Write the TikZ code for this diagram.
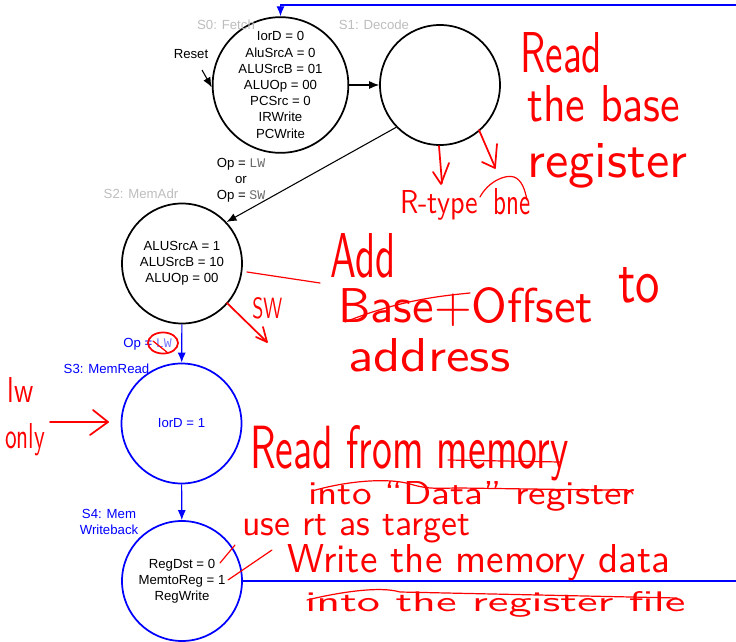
\documentclass[tikz,border=0pt]{standalone}
\usepackage{fontspec}
\usepackage{graphicx}
\setmainfont{Liberation Sans}
\newfontfamily\courfont{Liberation Mono}
\usetikzlibrary{arrows.meta}
\newlength\px \setlength\px{0.75pt}
\definecolor{lbl}{gray}{0.74}
\definecolor{opgray}{gray}{0.42}
\definecolor{lblue}{RGB}{120,120,255}
% hand-written note: width, height above baseline (in px), text
\newcommand\scrawl[3]{\resizebox{#1\px}{#2\px}{\sffamily #3}}
\begin{document}
\begin{tikzpicture}[x=0.75pt,y=-0.75pt,
  state/.style={circle, draw, line width=1.3pt, minimum size=90pt, inner sep=0pt,
    align=center, font=\fontsize{9.9}{12.15}\selectfont},
  tag/.style={font=\fontsize{9.9}{12}\selectfont, text=lbl, inner sep=0pt},
  flow/.style={line width=0.8pt, -{Latex[length=7.5pt,width=6pt]}},
  ink/.style={red, line width=1.3pt, line cap=round, line join=round},
  scr/.style={text=red, inner sep=0pt, anchor=base west}]
\useasboundingbox (0,0) rectangle (736,642);
\clip (0,0) rectangle (736,642);

% states
\node[state] (s0) at (280.5,85) {IorD = 0\\AluSrcA = 0\\ALUSrcB = 01\\ALUOp = 00\\PCSrc = 0\\IRWrite\\PCWrite};
\node[state] (s1) at (440,85) {};
\node[state] (s2) at (182,263.5) {ALUSrcA = 1\\ALUSrcB = 10\\ALUOp = 00};
\node[state, draw=blue, text=blue] (s3) at (181.5,423.5) {IorD = 1};
\node[state, draw=blue] (s4) at (182,581) {RegDst = 0\\MemtoReg = 1\\RegWrite};

% state names
\node[tag] (t0) at (226,25) {S0: Fetch};
\node[tag] (t1) at (374,25) {S1: Decode};
\node[tag] (t2) at (141,194) {S2: MemAdr};
\node[tag, text=blue] (t3) at (106.5,369) {S3: MemRead};
\node[tag, text=blue, align=center] (t4) at (109,522) {S4: Mem\\Writeback};

% transitions
\node[tag, text=black] (rst) at (191,54) {Reset};
\coordinate (rs) at (202,70);
\draw[flow] (rs) -- (s0.182);
\draw[flow] (s0) -- (s1);
\draw[flow] (s1.224) -- (s2.43);
\node[tag, text=black, align=center] (c12) at (241,180)
  {Op = {\courfont\color{opgray}LW}\\or\\Op = {\courfont\color{opgray}SW}};
\draw[flow, blue] (s2) -- (s3);
\node[tag, text=blue, anchor=base west] (c23) at (123,347.5) {Op = {\courfont\color{lblue}LW}};
\draw[flow, blue] (s3) -- (s4);
\coordinate (fb) at (745,5);
\draw[flow, blue] (s4.east) -- (s4.east -| fb) -- (fb) -| (s0.north);

% notes in red ink
\node[scr] (n1) at (520,73) {\scrawl{82}{40}{Read}};
\node[scr] (n2) at (527,122) {\scrawl{153}{36}{the base}};
\node[scr] (n3) at (527,177) {\scrawl{160}{34}{register}};
\draw[ink] (439,146) -- (442,183);
\draw[ink] (433,172) -- (441,184) -- (449,163);
\draw[ink] (479,130) -- (495,167);
\draw[ink] (482,162) -- (495,168) -- (497,144);
\node[scr] (n4) at (400,213) {\scrawl{78}{23}{R-type}};
\node[scr] (n5) at (493,214) {\scrawl{37}{26}{bne}};
\draw[ink, line width=0.9pt] (480,197) .. controls (488,182) and (505,174) .. (514,177)
  .. controls (522,180) and (525,190) .. (527,200);

\draw[ink, line width=0.9pt] (247,272) -- (320,283);
\node[scr] (n6) at (330,277) {\scrawl{65}{44}{Add}};
\node[scr] (n7) at (338,322) {\scrawl{255}{35}{Base+Offset}};
\node[scr] (n8) at (618,302) {\scrawl{42}{35}{to}};
\node[scr] (n9) at (348,371) {\scrawl{162}{33}{address}};
\draw[ink, line width=0.9pt] (345,322) .. controls (400,300) and (440,296) .. (470,293);

\node[scr] (n10) at (252,318) {\scrawl{30}{21}{SW}};
\draw[ink] (227,303) -- (267,342);
\draw[ink] (256,337) -- (267,342) -- (263,327);

\draw[ink] (163,343) ellipse (11.25pt and 7.9pt);
\draw[ink, line width=0.9pt] (153,341) -- (168,353);

\node[scr] (n11) at (7,402) {\scrawl{26}{25}{lw}};
\node[scr] (n12) at (5,448) {\scrawl{40}{25}{only}};
\draw[ink] (50,422) -- (108,422);
\draw[ink] (93,410) -- (108,422) -- (90,435);

\node[scr] (n13) at (250,468) {\scrawl{318}{43}{Read from memory}};
\draw[ink, line width=0.9pt] (448,460) -- (560,462);
\node[scr] (n14) at (308,504) {\scrawl{327}{23}{into “Data” register}};
\draw[ink, line width=0.9pt] (312,491) .. controls (350,480) and (390,478) .. (410,484)
  .. controls (430,490) and (440,488) .. (460,488) -- (600,490)
  .. controls (620,490) and (630,488) .. (633,494);
\node[scr] (n15) at (242,535) {\scrawl{228}{21}{use rt as target}};
\draw[ink, line width=0.9pt] (220,563) -- (235,545);
\node[scr] (n16) at (287,572) {\scrawl{383}{28}{Write the memory data}};
\draw[ink, line width=0.9pt] (228,580) -- (272,550);
\node[scr] (n17) at (305,611) {\scrawl{380}{20}{into the register file}};
\draw[ink, line width=0.9pt] (307,600) .. controls (340,592) and (380,586) .. (400,592)
  -- (677,598);
\end{tikzpicture}
\end{document}
